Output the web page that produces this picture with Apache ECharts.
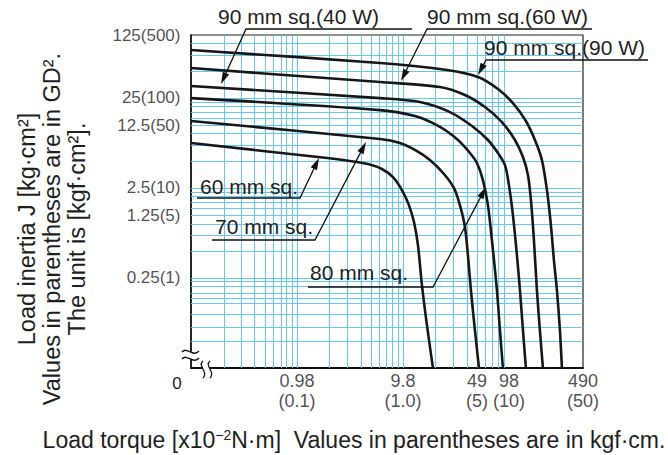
<!DOCTYPE html>
<html><head><meta charset="utf-8">
<script src="https://cdn.jsdelivr.net/npm/echarts@6/dist/echarts.min.js"></script>
<style>html,body{margin:0;padding:0;background:#fff}#c{width:668px;height:455px}</style>
</head><body><div id="c"></div>
<script>
// x: load torque [x10^-2 N·m], y: load inertia J [kg·cm²]
const curve90W = [[0.098,85.1],[5.95,61.1],[25.5,51.0],[50.0,42.7],[77.2,31.4],[106.9,21.9],[141.7,13.85],[172.4,8.52],[200.7,5.10],[223.8,2.37],[244,0.967],[260.4,0.395],[278,0.183],[296.7,0.066],[310,0.025]];
const curve60W = [[0.098,53.7],[5.95,37.5],[21.9,33.0],[37.7,26.9],[58.2,19.8],[84.2,13.5],[111.6,8.52],[132.9,5.51],[148.1,3.48],[158.1,1.83],[168.7,0.659],[180,0.183],[192,0.066],[205,0.025]];
const curve40W = [[0.098,33.9],[5.95,24.9],[14.2,22.5],[27.2,17.4],[43.9,12.2],[62.1,8.52],[77.2,6.11],[89.9,4.49],[98.0,2.69],[106.9,1.25],[116.6,0.449],[124.5,0.183],[132.9,0.066],[141.7,0.025]];
const curve80 = [[0.098,24.9],[5.95,18.3],[12.72,15.7],[21.9,11.9],[32.4,8.52],[42.0,6.11],[48.9,4.73],[55.7,3.06],[62.1,1.61],[67.7,0.659],[75.5,0.183],[80.6,0.066],[86.0,0.025]];
const curve70 = [[0.098,13.85],[5.95,8.74],[9.18,7.89],[12.72,6.60],[17.6,5.10],[23.9,3.57],[29.7,2.49],[33.8,1.61],[37.7,0.919],[40.2,0.449],[42.9,0.183],[46.8,0.066],[51.1,0.025]];
const curve60 = [[0.098,7.89],[1.546,5.51],[3.10,4.98],[4.58,4.61],[6.21,4.06],[7.89,3.30],[9.59,2.37],[11.16,1.61],[12.45,1.045],[13.58,0.580],[14.8,0.208],[16.5,0.075],[18.8,0.025]];

const seriesNames = ['90 mm sq.(90 W)','90 mm sq.(60 W)','90 mm sq.(40 W)','80 mm sq.','70 mm sq.','60 mm sq.'];
const seriesData = [curve90W, curve60W, curve40W, curve80, curve70, curve60];

const xMin = 0.098, xMax = 490;
const yMin = 0.025, yMax = 125;
const xTickValues = [0.98, 9.8, 49, 98, 490];
const xTickLabels = ['0.98\n(0.1)', '9.8\n(1.0)', '49\n(5)', '98\n(10)', '490\n(50)'];
const yTickValues = [125, 25, 12.5, 2.5, 1.25, 0.25];
const yTickLabels = ['125(500)', '25(100)', '12.5(50)', '2.5(10)', '1.25(5)', '0.25(1)'];
const originLabel = '0';

const xTitle = 'Load torque [x10{sup|−2}N·m]  Values in parentheses are in kgf·cm.';
const yTitle = 'Load inertia J [kg·cm²]\nValues in parentheses are in GD².\nThe unit is [kgf·cm²].';

// log-paper grid: multiples 1..9 of each decade (kgf·cm for x, GD² for y)
const xGrid = [], yGrid = [];
for (let e = -2; e <= 1; e++) for (let m = 1; m <= 9; m++) {
  const v = +(0.098 * m * Math.pow(10, e + 1)).toPrecision(6);
  if (v > xMin * 1.001 && v < xMax * 0.999) xGrid.push(v);
}
for (let e = -1; e <= 2; e++) for (let m = 1; m <= 9; m++) {
  const v = +(0.25 * m * Math.pow(10, e)).toPrecision(6);
  if (v > yMin * 1.001 && v < yMax * 0.999) yGrid.push(v);
}

const FONT = '"Liberation Sans", Arial, Helvetica, sans-serif';
const TXT = '#1e1e1e';
const GRIDC = '#66c8ef';

const annotations = [
  {text: '90 mm sq.(40 W)', x: 218, y: 16, path: [[412,29],[246,29],[221,84]]},
  {text: '90 mm sq.(60 W)', x: 427, y: 16, path: [[592,29],[427,29],[401,81]]},
  {text: '90 mm sq.(90 W)', x: 484, y: 47, path: [[648,60],[486,60],[478,75]]},
  {text: '60 mm sq.', x: 200, y: 186, path: [[197,198],[300,198],[319,158]]},
  {text: '70 mm sq.', x: 215, y: 226, path: [[212,240],[315,240],[366,142]]},
  {text: '80 mm sq.', x: 310, y: 272, path: [[308,287],[433,287],[486,187]]}
];

const graphics = [];
annotations.forEach(a => {
  graphics.push({type: 'text', x: a.x, y: a.y, z: 50, silent: true,
    style: {text: a.text, fontSize: 21, fontFamily: FONT, fill: TXT, align: 'left', verticalAlign: 'middle'}});
  const p = a.path, T = p[p.length - 1], P = p[p.length - 2];
  const dx = T[0] - P[0], dy = T[1] - P[1], L = Math.hypot(dx, dy);
  const ux = dx / L, uy = dy / L, len = 12, w = 3.5;
  const bx = T[0] - ux * len, by = T[1] - uy * len;
  const pts = p.slice(0, -1).concat([[bx + ux * 2, by + uy * 2]]);
  graphics.push({type: 'polyline', z: 50, silent: true, shape: {points: pts},
    style: {stroke: '#111', lineWidth: 1.3, fill: null}});
  graphics.push({type: 'polygon', z: 50, silent: true,
    shape: {points: [T, [bx - uy * w, by + ux * w], [bx + uy * w, by - ux * w]]},
    style: {fill: '#111'}});
});
// axis break marks
graphics.push({type: 'rect', z: 60, silent: true, shape: {x: 186, y: 352, width: 10, height: 7}, style: {fill: '#fff'}});
graphics.push({type: 'bezierCurve', z: 61, silent: true, shape: {x1: 182, y1: 352, cpx1: 187, cpy1: 346, cpx2: 193, cpy2: 358, x2: 199, y2: 351}, style: {stroke: '#111', lineWidth: 1.3, fill: null}});
graphics.push({type: 'bezierCurve', z: 61, silent: true, shape: {x1: 182, y1: 359, cpx1: 187, cpy1: 353, cpx2: 193, cpy2: 365, x2: 199, y2: 358}, style: {stroke: '#111', lineWidth: 1.3, fill: null}});
graphics.push({type: 'rect', z: 60, silent: true, shape: {x: 203, y: 364, width: 7, height: 8}, style: {fill: '#fff'}});
graphics.push({type: 'bezierCurve', z: 61, silent: true, shape: {x1: 203, y1: 361, cpx1: 197, cpy1: 366, cpx2: 209, cpy2: 372, x2: 203, y2: 378}, style: {stroke: '#111', lineWidth: 1.3, fill: null}});
graphics.push({type: 'bezierCurve', z: 61, silent: true, shape: {x1: 210, y1: 361, cpx1: 204, cpy1: 366, cpx2: 216, cpy2: 372, x2: 210, y2: 378}, style: {stroke: '#111', lineWidth: 1.3, fill: null}});
// origin label
graphics.push({type: 'text', x: 177, y: 383, z: 50, silent: true,
  style: {text: originLabel, fontSize: 17, fontFamily: FONT, fill: TXT, align: 'center', verticalAlign: 'middle'}});
// axis titles
graphics.push({type: 'text', x: 52, y: 229, rotation: Math.PI / 2, z: 50, silent: true,
  style: {text: yTitle, fontSize: 23.5, lineHeight: 25, fontFamily: FONT, fill: TXT, align: 'center', verticalAlign: 'middle'}});
graphics.push({type: 'text', x: 354, y: 440, z: 50, silent: true,
  style: {text: xTitle, fontSize: 23, fontFamily: FONT, fill: TXT, align: 'center', verticalAlign: 'middle',
    rich: {sup: {fontSize: 14, fontFamily: FONT, fill: TXT, padding: [0, 0, 10, 0]}}}});

const series = [];
series.push({
  type: 'line', name: 'grid', data: [[xMin, yMin]], showSymbol: false, z: 1, silent: true,
  lineStyle: {opacity: 0}, clip: false,
  markLine: {silent: true, symbol: ['none', 'none'], animation: false, label: {show: false},
    lineStyle: {color: GRIDC, width: 1, type: 'solid', opacity: 1},
    emphasis: {disabled: true},
    data: xGrid.map(v => ({xAxis: v})).concat(yGrid.map(v => ({yAxis: v})))}
});
seriesData.forEach((d, i) => series.push({
  type: 'line', name: seriesNames[i], data: d, showSymbol: false, smooth: 0.3, z: 5,
  lineStyle: {color: '#161616', width: 2.6}
}));
series.push({
  type: 'scatter', name: 'xticks', data: xTickValues.map(v => [v, yMin]), symbolSize: 1, clip: false, silent: true,
  itemStyle: {color: 'rgba(0,0,0,0)'}, z: 6,
  label: {show: true, position: 'bottom', distance: 2, fontSize: 18, lineHeight: 20, fontFamily: FONT, color: TXT, align: 'center',
    formatter: p => xTickLabels[p.dataIndex]}
});
series.push({
  type: 'scatter', name: 'yticks', data: yTickValues.map(v => [xMin, v]), symbolSize: 1, clip: false, silent: true,
  itemStyle: {color: 'rgba(0,0,0,0)'}, z: 6,
  label: {show: true, position: 'left', distance: 10, fontSize: 17, fontFamily: FONT, color: TXT,
    formatter: p => yTickLabels[p.dataIndex]}
});

const chart = echarts.init(document.getElementById('c'), null, {renderer: 'svg'});
chart.setOption({
  animation: false,
  backgroundColor: '#fff',
  grid: {left: 191, top: 35, width: 392, height: 333, show: true, borderColor: '#222', borderWidth: 1.2, backgroundColor: 'transparent'},
  xAxis: {type: 'log', logBase: 10, min: xMin, max: xMax,
    axisLine: {show: true, onZero: false, lineStyle: {color: '#111', width: 2}},
    axisTick: {show: false}, axisLabel: {show: false}, splitLine: {show: false}},
  yAxis: {type: 'log', logBase: 10, min: yMin, max: yMax,
    axisLine: {show: true, onZero: false, lineStyle: {color: '#111', width: 1.6}},
    axisTick: {show: false}, axisLabel: {show: false}, splitLine: {show: false}},
  graphic: graphics,
  series: series
});
</script></body></html>
